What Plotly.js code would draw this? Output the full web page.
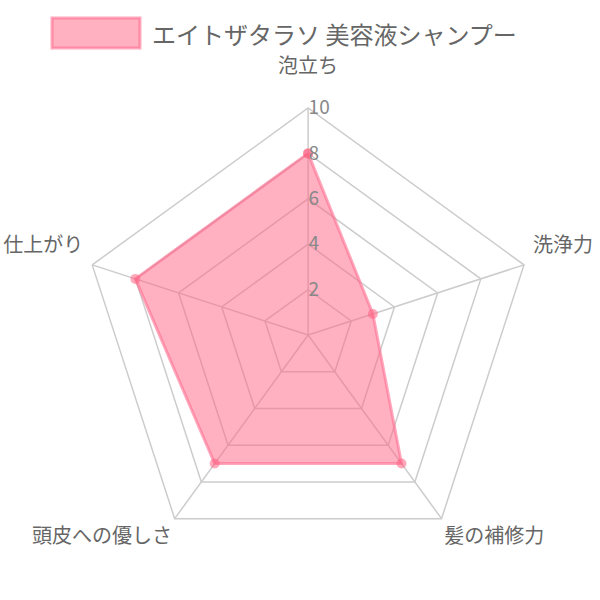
<!DOCTYPE html>
<html>
<head>
<meta charset="utf-8">
<script src="https://cdn.plot.ly/plotly-3.0.1.min.js"></script>
<style>
  html, body { margin: 0; padding: 0; background: #fff; }
  #chart { width: 600px; height: 600px; }
</style>
</head>
<body>
<div id="chart"></div>
<script>
var seriesName = 'エイトザタラソ 美容液シャンプー';
var categories = ['泡立ち', '洗浄力', '髪の補修力', '頭皮への優しさ', '仕上がり'];
var scores = [8, 3, 7, 7, 8];
var radialTicks = [2, 4, 6, 8, 10];

var font = '"Noto Sans CJK JP", "Noto Sans", sans-serif';
var fillColor = 'rgba(255, 99, 132, 0.5)';
var edgeColor = 'rgba(255, 110, 145, 0.6)';

// pad the top and side names so they sit a little further out, like the original
var nb = '\u00a0';
var categoryText = [
    categories[0] + '<br> ',
    nb + categories[1] + '<br> ',
    categories[2],
    categories[3],
    categories[4] + nb + '<br> '
];

var trace = {
    type: 'scatterpolar',
    r: scores.concat([scores[0]]),
    theta: categories.concat([categories[0]]),
    name: seriesName,
    mode: 'lines+markers',
    fill: 'toself',
    fillcolor: fillColor,
    line: { color: edgeColor, width: 3 },
    marker: { color: 'rgba(255, 99, 132, 0.55)', size: 10 },
    hoverinfo: 'theta+r'
};

var layout = {
    width: 600,
    height: 600,
    margin: { l: 0, r: 0, t: 0, b: 0 },
    paper_bgcolor: '#fff',
    font: { family: font, color: '#666' },
    showlegend: false,
    shapes: [{
        type: 'rect', xref: 'paper', yref: 'paper',
        x0: 0.0867, x1: 0.2333, y0: 0.92, y1: 0.97,
        fillcolor: fillColor,
        line: { color: edgeColor, width: 3 }
    }],
    annotations: [{
        xref: 'paper', yref: 'paper',
        x: 0.25, y: 0.945, xanchor: 'left', yanchor: 'middle',
        text: seriesName, showarrow: false,
        font: { size: 24, color: '#666', family: font }
    }],
    polar: {
        domain: { x: [0.135, 0.892], y: [0.0633, 0.82] },
        bgcolor: '#fff',
        gridshape: 'linear',
        angularaxis: {
            direction: 'clockwise',
            rotation: 90,
            linecolor: '#ccc',
            linewidth: 1.5,
            gridcolor: '#ccc',
            gridwidth: 1.5,
            ticks: '',
            tickvals: categories,
            ticktext: categoryText,
            tickfont: { size: 20, color: '#666', family: font }
        },
        radialaxis: {
            range: [0, 10],
            tickvals: radialTicks,
            ticktext: radialTicks.map(String),
            angle: 90,
            tickangle: 90,
            showline: false,
            ticks: '',
            gridcolor: '#ccc',
            gridwidth: 1.5,
            tickfont: { size: 19, color: '#888', family: font }
        }
    }
};

Plotly.newPlot('chart', [trace], layout, { displayModeBar: false, staticPlot: true });
</script>
</body>
</html>
